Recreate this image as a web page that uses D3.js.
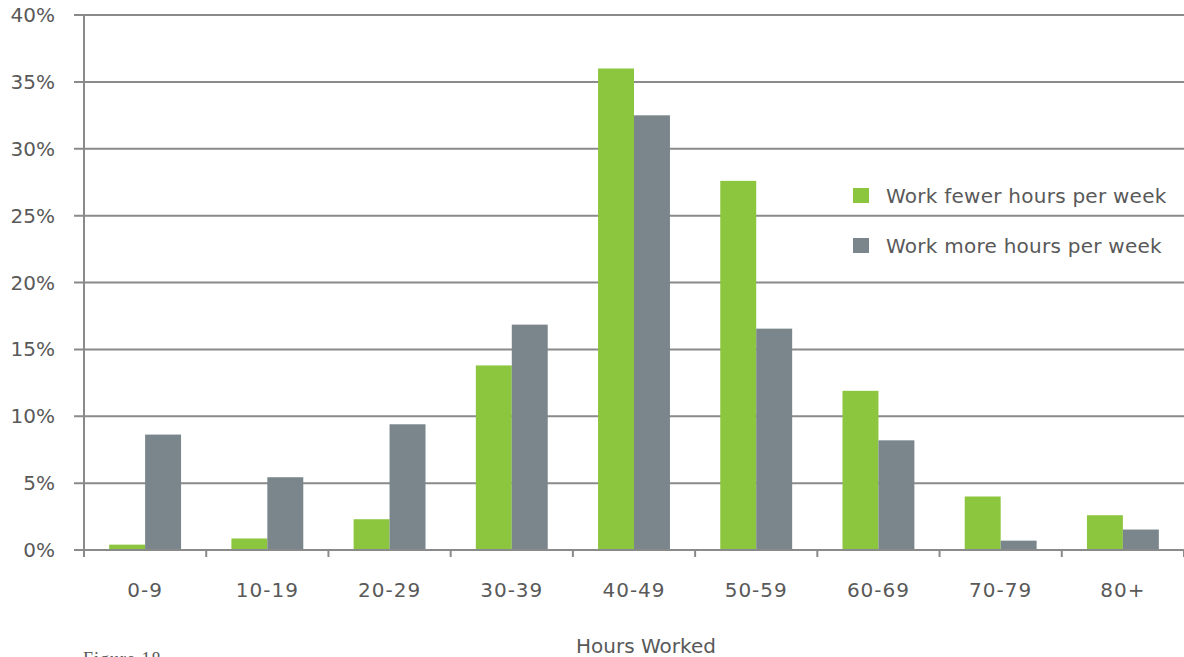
<!DOCTYPE html>
<html lang="en">
<head>
  <meta charset="UTF-8">
  <title>Hours Worked</title>
  <script src="https://d3js.org/d3.v7.min.js"></script>
  <style>
    body {
      margin: 0;
      background: #fff;
      font-family: "DejaVu Sans", sans-serif;
    }
    svg text {
      fill: #595959;
    }
    .tick-label {
      font-size: 20px;
    }
  </style>
</head>
<body>
  <svg id="chart"></svg>

  <script>
    // Chart data
    const categories = ["0-9", "10-19", "20-29", "30-39", "40-49", "50-59", "60-69", "70-79", "80+"];
    const fewerHours = [0.4, 0.86, 2.3, 13.8, 36.0, 27.6, 11.9, 4.0, 2.6];
    const moreHours = [8.63, 5.44, 9.4, 16.85, 32.5, 16.55, 8.2, 0.7, 1.53];
    const seriesNames = ["Work fewer hours per week", "Work more hours per week"];
    const seriesColors = ["#8cc63f", "#7a868c"];
    const yTicks = [0, 5, 10, 15, 20, 25, 30, 35, 40];

    const width = 1184, height = 657;
    const margin = {top: 15, right: 0, bottom: 107, left: 84};

    const svg = d3.select("#chart")
      .attr("width", width)
      .attr("height", height);

    const x0 = d3.scaleBand()
      .domain(categories)
      .range([margin.left, width - margin.right])
      .padding(0);

    const x1 = d3.scaleBand()
      .domain(seriesNames)
      .range([0, x0.bandwidth()])
      .paddingInner(0)
      .paddingOuter(0.7);

    const y = d3.scaleLinear()
      .domain([0, 40])
      .range([height - margin.bottom, margin.top]);

    // Gridlines
    svg.append("g")
      .selectAll("line")
      .data(yTicks)
      .join("line")
      .attr("x1", margin.left - 10)
      .attr("x2", width - margin.right)
      .attr("y1", d => y(d))
      .attr("y2", d => y(d))
      .attr("stroke", "#8a8a8a")
      .attr("stroke-width", 2);

    // Y labels
    svg.append("g")
      .selectAll("text")
      .data(yTicks)
      .join("text")
      .attr("class", "tick-label")
      .attr("x", 55)
      .attr("y", d => y(d) + 7)
      .attr("text-anchor", "end")
      .text(d => d + "%");

    // Bars
    const rows = categories.map((c, i) => ({cat: c, values: [fewerHours[i], moreHours[i]]}));

    svg.append("g")
      .selectAll("g")
      .data(rows)
      .join("g")
      .attr("transform", d => `translate(${x0(d.cat)},0)`)
      .selectAll("rect")
      .data(d => d.values.map((v, j) => ({key: seriesNames[j], value: v, color: seriesColors[j]})))
      .join("rect")
      .attr("x", d => x1(d.key))
      .attr("width", x1.bandwidth())
      .attr("y", d => y(d.value))
      .attr("height", d => y(0) - y(d.value))
      .attr("fill", d => d.color);

    // Axes lines
    svg.append("line")
      .attr("x1", margin.left).attr("x2", margin.left)
      .attr("y1", y(40)).attr("y2", y(0) + 7)
      .attr("stroke", "#8a8a8a").attr("stroke-width", 2);

    svg.append("line")
      .attr("x1", margin.left - 10).attr("x2", width)
      .attr("y1", y(0)).attr("y2", y(0))
      .attr("stroke", "#8a8a8a").attr("stroke-width", 2);

    // Category tick marks
    const tickXs = categories.map(c => x0(c)).concat([x0(categories[categories.length - 1]) + x0.bandwidth()]);
    svg.append("g")
      .selectAll("line")
      .data(tickXs.slice(1))
      .join("line")
      .attr("x1", d => d).attr("x2", d => d)
      .attr("y1", y(0)).attr("y2", y(0) + 7)
      .attr("stroke", "#8a8a8a").attr("stroke-width", 2);

    // X labels
    svg.append("g")
      .selectAll("text")
      .data(categories)
      .join("text")
      .attr("class", "tick-label")
      .attr("x", d => x0(d) + x0.bandwidth() / 2)
      .attr("y", 597)
      .attr("text-anchor", "middle")
      .style("letter-spacing", "1px")
      .text(d => d);

    // Axis title
    svg.append("text")
      .attr("x", 646)
      .attr("y", 653)
      .attr("text-anchor", "middle")
      .style("font-size", "20px")
      .text("Hours Worked");

    // Figure caption (cut off at bottom)
    svg.append("text")
      .attr("x", 83)
      .attr("y", 665)
      .style("font-family", "'Liberation Serif', serif")
      .style("font-size", "18px")
      .style("letter-spacing", "1px")
      .text("Figure 18");

    // Legend
    const legend = svg.append("g")
      .selectAll("g")
      .data(seriesNames)
      .join("g")
      .attr("transform", (d, i) => `translate(853,${188 + i * 50})`);

    legend.append("rect")
      .attr("width", 16)
      .attr("height", 15)
      .attr("fill", (d, i) => seriesColors[i]);

    legend.append("text")
      .attr("x", 33)
      .attr("y", 15)
      .style("font-size", "20px")
      .style("letter-spacing", "0.25px")
      .text(d => d);
  </script>
</body>
</html>
